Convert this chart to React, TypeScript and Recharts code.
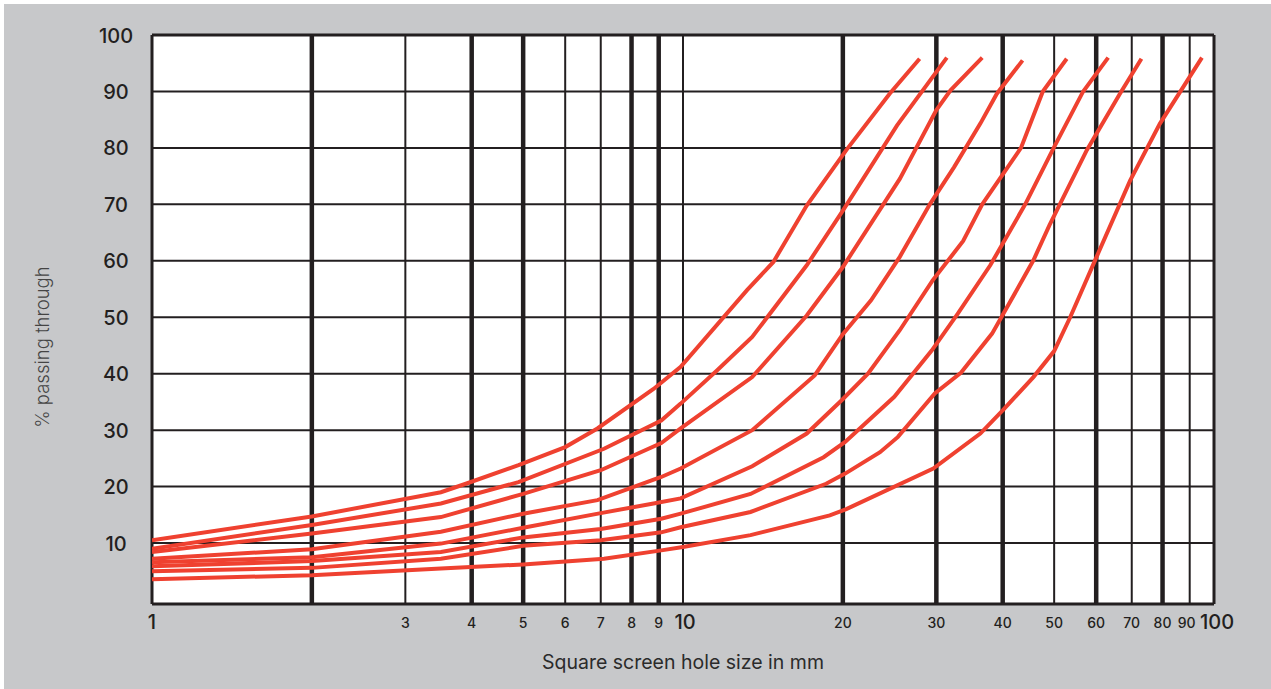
import React from 'react';
import { LineChart, Line, XAxis, YAxis, CartesianGrid, ReferenceLine } from 'recharts';

// sieve sizes (mm) and percent passing
const sieveTicks = [1, 3, 4, 5, 6, 7, 8, 9, 10, 20, 30, 40, 50, 60, 70, 80, 90, 100];
const bigTicks = [1, 10, 100];
const percentTicks = [10, 20, 30, 40, 50, 60, 70, 80, 90, 100];
const gridY = [10, 20, 30, 40, 50, 60, 70, 80, 90];
const thinGridX = [3, 6, 7, 10, 50, 70, 90];
const thickGridX = [2, 4, 5, 8, 9, 20, 30, 40, 60, 80];

const curveA = [[1, 10.5], [2, 14.7], [3.5, 19.0], [3.9, 20.5], [4.9, 23.8], [6, 27.0], [6.9, 30.3], [8.8, 37.3], [9.9, 41.2], [13.2, 54.8], [14.8, 59.8], [17.1, 69.8], [20.3, 79.6], [24.5, 89.6], [27.9, 95.8]];
const curveB = [[1, 9.0], [2, 13.2], [3.5, 17.0], [4.9, 20.8], [7.1, 26.7], [9.1, 31.7], [9.9, 34.7], [11.6, 40.6], [13.5, 46.5], [17.1, 59.2], [20, 68.9], [25.3, 84], [31.4, 96]];
const curveC = [[1, 8.4], [2, 11.7], [3.5, 14.6], [5, 18.7], [7, 22.9], [9.1, 27.7], [9.9, 30.3], [13.5, 39.4], [17.1, 50.3], [20, 58.9], [25.6, 74.5], [30, 86.7], [31.9, 90.2], [36.6, 96]];
const curveD = [[1, 7.2], [2, 8.9], [3.5, 12.0], [5, 15.2], [6.9, 17.6], [9.1, 21.7], [9.9, 23.2], [13.5, 30], [17.7, 39.7], [20, 47], [22.6, 53], [25.6, 60.7], [29.2, 70.1], [32.4, 76.6], [36.3, 84.3], [39, 89.6], [43.6, 95.5]];
const curveE = [[1, 6.6], [2, 7.5], [3.5, 9.9], [5, 12.7], [7, 15.3], [8.8, 17], [9.9, 17.9], [13.5, 23.6], [17.1, 29.4], [19.9, 35.3], [22.3, 40], [25.6, 47.7], [29.5, 56.5], [33.7, 63.5], [36.6, 70], [43.3, 80], [47.6, 90], [52.8, 95.8]];
const curveF = [[1, 5.9], [2, 6.8], [3.5, 8.4], [5, 11.0], [7, 12.5], [9.1, 14.3], [9.9, 15.2], [13.4, 18.7], [18.4, 25.2], [20.2, 27.9], [25, 35.9], [29.4, 44.1], [32.9, 50.6], [37.9, 59.2], [44.1, 70], [49.9, 80], [56.7, 90], [63.2, 96]];
const curveG = [[1, 5.0], [2, 5.6], [3.5, 7.2], [5, 9.5], [7, 10.5], [9.1, 11.9], [9.9, 12.8], [13.4, 15.5], [18.6, 20.5], [20.2, 22.3], [23.5, 26.1], [25.4, 28.8], [29.8, 36.5], [33.4, 40.2], [38.2, 47.1], [42.8, 55.3], [45.7, 60.1], [49, 66.3], [57.6, 79.6], [66.5, 89.6], [73, 95.8]];
const curveH = [[1, 3.6], [2, 4.3], [3.5, 5.5], [5, 6.2], [7.1, 7.2], [9.1, 8.7], [10, 9.3], [13.4, 11.4], [18.9, 14.9], [20.3, 16], [29.6, 23.2], [36.3, 29.4], [40, 33.5], [45.7, 39.4], [50, 44], [53.6, 50], [60.1, 60.7], [69.5, 74.2], [79.1, 84.3], [94.9, 96]];

const curves = [curveA, curveB, curveC, curveD, curveE, curveF, curveG, curveH].map((c) =>
  c.map(([x, y]) => ({ x, y }))
);

const ink = '#231f20';
const red = '#ef4130';
const font = 'Inter, "Noto Sans", sans-serif';

// small nudges so the crowded labels at the right end do not collide
const tickNudge: Record<number, number> = { 10: 2, 90: -3, 100: 3 };

const XTick = ({ x, payload }: any) => {
  const big = bigTicks.includes(payload.value);
  return (
    <text x={x + (tickNudge[payload.value] || 0)} y={big ? 629 : 628} textAnchor="middle" fontFamily={font} fontSize={big ? 20 : 14} fontWeight={500} fill={ink}>
      {payload.value}
    </text>
  );
};

const YTick = ({ y, payload }: any) => (
  <text x={116} y={y + 7.5} textAnchor="middle" fontFamily={font} fontSize={20} fontWeight={500} fill={ink}>
    {payload.value}
  </text>
);

export default function App() {
  return (
    <div style={{ position: 'absolute', left: 0, top: 0, width: 1271, height: 689, background: '#fff', overflow: 'hidden' }}>
      <div style={{ position: 'absolute', left: 4, top: 4, width: 1267, height: 685, background: '#c7c8ca' }} />
      <div style={{ position: 'absolute', left: 152, top: 35, width: 1062, height: 569, background: '#fff' }} />
      <div style={{ position: 'absolute', left: 0, top: 0 }}>
        <LineChart width={1271} height={689} margin={{ top: 35, right: 57, bottom: 45, left: 92 }}>
          <CartesianGrid horizontalValues={gridY} verticalValues={thinGridX} stroke={ink} strokeWidth={2} />
          <CartesianGrid horizontal={false} verticalValues={thickGridX} stroke={ink} strokeWidth={4.5} />
          <XAxis
            dataKey="x"
            type="number"
            scale="log"
            domain={[1, 100]}
            ticks={sieveTicks}
            allowDataOverflow
            axisLine={false}
            tickLine={false}
            height={40}
            tick={<XTick />}
            interval={0}
          />
          <YAxis
            type="number"
            domain={[-0.8, 100]}
            ticks={percentTicks}
            allowDataOverflow
            axisLine={false}
            tickLine={false}
            width={60}
            tick={<YTick />}
            interval={0}
          />
          <ReferenceLine x={1} stroke={ink} strokeWidth={3} />
          <ReferenceLine x={100} stroke={ink} strokeWidth={3} />
          <ReferenceLine y={100} stroke={ink} strokeWidth={3} />
          <ReferenceLine y={-0.8} stroke={ink} strokeWidth={3} />
          {curves.map((c, i) => (
            <Line
              key={i}
              data={c}
              dataKey="y"
              type="linear"
              stroke={red}
              strokeWidth={4}
              dot={false}
              activeDot={false}
              isAnimationActive={false}
            />
          ))}
        </LineChart>
      </div>
      <div style={{ position: 'absolute', left: 0, width: 1271, top: 650, textAlign: 'center', paddingLeft: 95, boxSizing: 'border-box', fontFamily: font, fontSize: 19.5, color: '#2b2b2b' }}>
        Square screen hole size in mm
      </div>
      <div style={{ position: 'absolute', left: 42, top: 347, transform: 'translate(-50%, -50%) rotate(-90deg)', whiteSpace: 'nowrap', fontFamily: font, fontSize: 18.5, fontWeight: 300, color: '#444' }}>
        % passing through
      </div>
    </div>
  );
}
